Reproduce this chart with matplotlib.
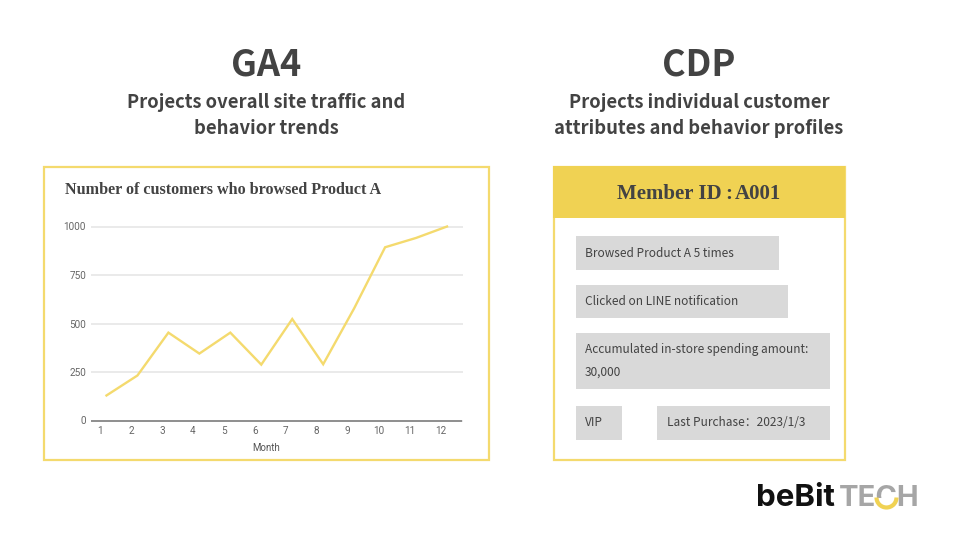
import numpy as np
import matplotlib
matplotlib.use('Agg')
import matplotlib.pyplot as plt
from matplotlib.patches import Rectangle, Arc

months = [1, 2, 3, 4, 5, 6, 7, 8, 9, 10, 11, 12]
customers = [129, 232, 453, 345, 453, 288, 523, 290, 578, 893, 941, 1000]
y_ticks = [0, 250, 500, 750, 1000]

YELLOW = '#f0d253'
LINE_YELLOW = '#f4da6e'
DARK = '#434343'
GREY_BOX = '#d9d9d9'
SANS = ['Noto Sans CJK SC', 'DejaVu Sans']

plt.rcParams['font.family'] = SANS

fig = plt.figure(figsize=(9.6, 5.4), dpi=100)

# whole slide in pixel coordinates, for the frames and text
bg = fig.add_axes([0, 0, 1, 1])
bg.set_xlim(0, 960)
bg.set_ylim(540, 0)
bg.axis('off')

bg.text(266, 65, 'GA4', fontsize=26, fontweight='bold', color=DARK, ha='center', va='center')
bg.text(699, 65, 'CDP', fontsize=26, fontweight='bold', color=DARK, ha='center', va='center')
bg.text(266, 103, 'Projects overall site traffic and', fontsize=13.25, fontweight='bold', color=DARK, ha='center', va='center')
bg.text(266, 128, 'behavior trends', fontsize=13.25, fontweight='bold', color=DARK, ha='center', va='center')
bg.text(699, 103, 'Projects individual customer', fontsize=13.25, fontweight='bold', color=DARK, ha='center', va='center')
bg.text(699, 128, 'attributes and behavior profiles', fontsize=13.25, fontweight='bold', color=DARK, ha='center', va='center')

# GA4 frame
bg.add_patch(Rectangle((43.5, 166.5), 445, 293, fill=False, ec=LINE_YELLOW, lw=1.6))
bg.text(65, 190, 'Number of customers who browsed Product A', fontsize=11.6, fontweight='bold',
        family='Liberation Serif', color=DARK, ha='left', va='center')

# CDP card
bg.add_patch(Rectangle((553.5, 166.5), 291, 293, fill=False, ec=LINE_YELLOW, lw=1.6))
bg.add_patch(Rectangle((553, 166), 292, 52, fc=YELLOW, ec='none'))
bg.text(617, 194, 'Member ID', fontsize=15, fontweight='bold', family='Liberation Serif', color=DARK, va='center')
bg.text(729, 194, ':', fontsize=15, fontweight='bold', family='Liberation Serif', color=DARK, ha='center', va='center')
bg.text(735, 194, 'A001', fontsize=15, fontweight='bold', family='Liberation Serif', color=DARK, va='center')

boxes = [(576, 236, 203, 34), (576, 285, 212, 33), (576, 333, 254, 56), (576, 406, 46, 34), (657, 406, 173, 34)]
for x, y, w, h in boxes:
    bg.add_patch(Rectangle((x, y), w, h, fc=GREY_BOX, ec='none'))
bg.text(585, 253.5, 'Browsed Product A 5 times', fontsize=8.55, color=DARK, va='center')
bg.text(585, 301.5, 'Clicked on LINE notification', fontsize=8.55, color=DARK, va='center')
bg.text(585, 350, 'Accumulated in-store spending amount:', fontsize=8.55, color=DARK, va='center')
bg.text(585, 372, '30,000', fontsize=8.55, color=DARK, va='center')
bg.text(585, 423, 'VIP', fontsize=8.55, color=DARK, va='center')
bg.text(667, 423, 'Last Purchase：2023/1/3', fontsize=8.55, color=DARK, va='center')

# logo
bg.text(756, 498, 'beBit', fontsize=22.5, fontweight='bold', family='Inter', color='#111111', va='center')
bg.text(919, 498, 'TECH', fontsize=21, fontweight='bold', family='Inter', color='#a6a6a6', va='center', ha='right')
bg.add_patch(Rectangle((875, 498), 22, 13, fc='white', ec='none', zorder=3))
bg.add_patch(Arc((886.5, 497.5), 20, 20, theta1=0, theta2=180, ec=YELLOW, lw=3, zorder=4))

# line chart, placed so that its plot area lands on the frame
ax = fig.add_axes([91 / 960, 1 - 420.5 / 540, 371.5 / 960, 194 / 540])
ax.patch.set_alpha(0)
ax.plot(months, customers, color=LINE_YELLOW, lw=1.7, solid_joinstyle='miter')
ax.set_xlim(0.5, 12.5)
ax.set_ylim(0, 1000)
ax.set_yticks(y_ticks)
ax.set_xticks(np.array(months) - 0.21)
ax.set_xticklabels(months)
ax.tick_params(axis='both', length=0, labelsize=7.2, labelcolor='#666666')
ax.tick_params(axis='x', pad=4)
ax.tick_params(axis='y', pad=3.5)
for t in ax.get_xticklabels() + ax.get_yticklabels():
    t.set_family('Roboto')
ax.grid(axis='y', color='#e8e8e8', lw=1.3)
for g in ax.get_ygridlines():
    g.set_clip_on(False)
    g.set_solid_capstyle('butt')
ax.set_axisbelow(True)
for s in ['top', 'right', 'left']:
    ax.spines[s].set_visible(False)
ax.spines['bottom'].set_color('#888888')
ax.spines['bottom'].set_linewidth(1.3)
ax.spines['bottom'].set_capstyle('butt')
ax.set_xlabel('Month', fontsize=7, color='#555555', family='Roboto')
ax.xaxis.set_label_coords((266 - 91) / 371.5, -0.115)

for line in ax.get_lines():
    line.set_clip_on(False)

fig.savefig('out.png', dpi=100)
